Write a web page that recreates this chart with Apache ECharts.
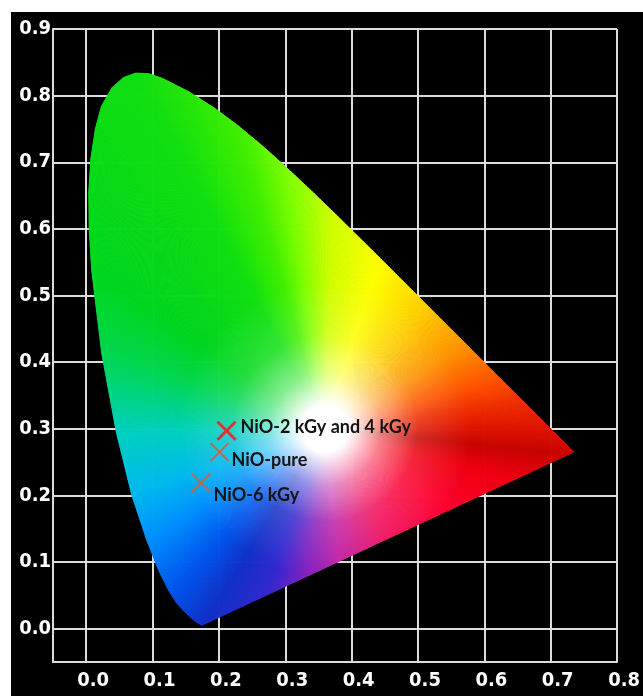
<!DOCTYPE html>
<html>
<head>
<meta charset="utf-8">
<script src="https://cdn.jsdelivr.net/npm/echarts@6/dist/echarts.min.js"></script>
<style>
    html, body { margin: 0; padding: 0; background: #fff; }
    #chart { position: absolute; left: 11px; top: 12px; width: 632px; height: 684px; background: #000; }
</style>
</head>
<body>
<div id="chart"></div>
<script>
// edge of the coloured horseshoe (spectral locus)
var locusX = [0.1741, 0.1644, 0.1566, 0.1440, 0.1355, 0.1241, 0.1096, 0.0913, 0.0687, 0.0454,
              0.0235, 0.0082, 0.0045, 0.0039, 0.0070, 0.0139, 0.0230, 0.0389, 0.0560, 0.0743,
              0.0940, 0.1142, 0.1547, 0.1929, 0.2296, 0.2658, 0.3016, 0.3373, 0.3731, 0.4087,
              0.4441, 0.4788, 0.5125, 0.5448, 0.5752, 0.6029, 0.6270, 0.6658, 0.6915, 0.7190,
              0.7347];
var locusY = [0.0050, 0.0109, 0.0177, 0.0297, 0.0399, 0.0578, 0.0868, 0.1327, 0.2007, 0.2950,
              0.4127, 0.5384, 0.6000, 0.6548, 0.7050, 0.7502, 0.7840, 0.8120, 0.8270, 0.8338,
              0.8330, 0.8262, 0.8059, 0.7816, 0.7543, 0.7243, 0.6923, 0.6589, 0.6245, 0.5896,
              0.5547, 0.5202, 0.4866, 0.4544, 0.4242, 0.3965, 0.3725, 0.3340, 0.3083, 0.2809,
              0.2653];

// white spot inside the horseshoe
var whiteX = 0.36;
var whiteY = 0.30;

// samples
var sampleNames = ['NiO-2 kGy and 4 kGy', 'NiO-pure', 'NiO-6 kGy'];
var sampleX = [0.2115, 0.201, 0.173];
var sampleY = [0.297, 0.265, 0.219];

var xTickValues = [0, 0.1, 0.2, 0.3, 0.4, 0.5, 0.6, 0.7, 0.8];
var xTickLabels = ['0.0', '0.1', '0.2', '0.3', '0.4', '0.5', '0.6', '0.7', '0.8'];
var yTickValues = [0, 0.1, 0.2, 0.3, 0.4, 0.5, 0.6, 0.7, 0.8, 0.9];
var yTickLabels = ['0.0', '0.1', '0.2', '0.3', '0.4', '0.5', '0.6', '0.7', '0.8', '0.9'];

// colour of the rim, by angle seen from the white spot (degrees)
var rimAngles = [-6, 0, 8, 15, 30, 51, 72, 88, 98, 106, 118, 146, 161, 181, 199, 212, 226, 238, 250, 262, 275, 298, 326, 345, 354];
var rimColors = ['#c80400', '#e01400', '#f03000', '#ff5000', '#ff9000', '#ffd000', '#ffff00', '#d0ff00', '#80ff00', '#40f000',
                 '#10e010', '#00d820', '#00d850', '#00d0c0', '#00b8f0', '#0090ff', '#0058f0', '#1030c8', '#3028d0', '#8020c0',
                 '#c020a8', '#f01060', '#ff0030', '#f00010', '#c80400'];

// how fast the white fades into the rim colour (distance in chart units)
var fadeDist = [0, 0.035, 0.085, 0.14, 0.22];
var fadeMix = [0, 0, 0.5, 0.85, 1];

var markColors = ['#e43030', '#bc6a4c', '#bc6a4c'];
var markWidths = [3, 2, 2];
var markHalf = [9, 9, 9.5];
var labelDx = [14, 12, 12.5];
var labelDy = [-4, 8, 12];

function hexRgb(h) {
    return [parseInt(h.substr(1, 2), 16), parseInt(h.substr(3, 2), 16), parseInt(h.substr(5, 2), 16)];
}
function lerp(a, b, t) {
    var r = [];
    for (var k = 0; k < 3; k++) r.push(a[k] + (b[k] - a[k]) * t);
    return r;
}
function css(c) {
    return 'rgb(' + c.map(Math.round).join(',') + ')';
}
function rimColor(ang) {
    if (ang >= 354) ang -= 360;
    for (var k = 0; k < rimAngles.length - 1; k++) {
        if (ang <= rimAngles[k + 1]) {
            var t = (ang - rimAngles[k]) / (rimAngles[k + 1] - rimAngles[k]);
            return lerp(hexRgb(rimColors[k]), hexRgb(rimColors[k + 1]), Math.max(0, Math.min(1, t)));
        }
    }
    return hexRgb(rimColors[rimColors.length - 1]);
}
function mixAt(d) {
    for (var k = 0; k < fadeDist.length - 1; k++) {
        if (d <= fadeDist[k + 1]) {
            return fadeMix[k] + (fadeMix[k + 1] - fadeMix[k]) * (d - fadeDist[k]) / (fadeDist[k + 1] - fadeDist[k]);
        }
    }
    return 1;
}
function fanStops(rim, rData) {
    var w = [255, 255, 255];
    var stops = [];
    for (var k = 0; k < fadeDist.length; k++) {
        var off = fadeDist[k] / rData;
        if (off < 1) stops.push({offset: off, color: css(lerp(w, rim, fadeMix[k]))});
    }
    stops.push({offset: 1, color: css(lerp(w, rim, mixAt(rData)))});
    return stops;
}

function renderFan(params, api) {
    var n = locusX.length;
    var i = params.dataIndex;
    var j = (i + 1) % n;
    var unit = api.size([1, 1])[0];
    var c = api.coord([whiteX, whiteY]);
    var a = api.coord([locusX[i], locusY[i]]);
    var b = api.coord([locusX[j], locusY[j]]);
    var len = Math.hypot(b[0] - a[0], b[1] - a[1]);
    var steps = Math.max(1, Math.ceil(len / 3));
    var children = [];
    for (var k = 0; k < steps; k++) {
        var t0 = k / steps, t1 = (k + 1) / steps, tm = (k + 0.5) / steps;
        var p0 = [a[0] + (b[0] - a[0]) * t0, a[1] + (b[1] - a[1]) * t0];
        var p1 = [a[0] + (b[0] - a[0]) * t1, a[1] + (b[1] - a[1]) * t1];
        var pm = [a[0] + (b[0] - a[0]) * tm, a[1] + (b[1] - a[1]) * tm];
        var r = Math.hypot(pm[0] - c[0], pm[1] - c[1]);
        var ang = Math.atan2(c[1] - pm[1], pm[0] - c[0]) * 180 / Math.PI;
        if (ang < 0) ang += 360;
        var grad = new echarts.graphic.RadialGradient(c[0], c[1], r, fanStops(rimColor(ang), r / unit), true);
        children.push({
            type: 'polygon',
            shape: {points: [c, p0, p1]},
            style: {fill: grad, stroke: grad, lineWidth: 1}
        });
    }
    return {type: 'group', children: children};
}

function renderSample(params, api) {
    var i = params.dataIndex;
    var p = api.coord([sampleX[i], sampleY[i]]);
    var h = markHalf[i];
    var st = {stroke: markColors[i], lineWidth: markWidths[i]};
    return {
        type: 'group',
        children: [
            {type: 'line', shape: {x1: p[0] - h, y1: p[1] - h, x2: p[0] + h, y2: p[1] + h}, style: st},
            {type: 'line', shape: {x1: p[0] - h, y1: p[1] + h, x2: p[0] + h, y2: p[1] - h}, style: st},
            {
                type: 'text', x: p[0] + labelDx[i], y: p[1] + labelDy[i],
                style: {text: sampleNames[i], fill: '#141414', font: 'bold 18px Lato', verticalAlign: 'middle'}
            }
        ]
    };
}

function tickFmt(values, labels) {
    return function (v) {
        for (var k = 0; k < values.length; k++) {
            if (Math.abs(values[k] - v) < 1e-6) return labels[k];
        }
        return '';
    };
}

var gridColor = '#dcdcdc';
var labelStyle = {
    color: '#ffffff',
    fontFamily: '"DejaVu Sans Condensed", "Liberation Sans Narrow", sans-serif',
    fontWeight: 'bold',
    fontSize: 20
};

var chart = echarts.init(document.getElementById('chart'));

var option = {
    animation: false,
    backgroundColor: '#000',
    grid: {left: 42, top: 17, right: 23, bottom: 34},
    xAxis: {
        type: 'value', min: -0.05, max: 0.8,
        axisLine: {show: true, onZero: false, lineStyle: {color: gridColor, width: 2}},
        axisTick: {show: false, customValues: xTickValues},
        splitLine: {show: true, lineStyle: {color: gridColor, width: 2}},
        axisLabel: Object.assign({customValues: xTickValues, formatter: tickFmt(xTickValues, xTickLabels), margin: 9, padding: [0, 0, 0, 14]}, labelStyle)
    },
    yAxis: {
        type: 'value', min: -0.05, max: 0.9,
        axisLine: {show: true, onZero: false, lineStyle: {color: gridColor, width: 2}},
        axisTick: {show: false, customValues: yTickValues},
        splitLine: {show: true, lineStyle: {color: gridColor, width: 2}},
        axisLabel: Object.assign({customValues: yTickValues, formatter: tickFmt(yTickValues, yTickLabels), margin: 2}, labelStyle)
    },
    series: [
        {
            type: 'custom',
            renderItem: renderFan,
            data: locusX.map(function (x, i) { return [x, locusY[i]]; }),
            silent: true
        },
        {
            type: 'custom',
            renderItem: renderSample,
            data: sampleX.map(function (x, i) { return [x, sampleY[i]]; }),
            silent: true
        }
    ]
};

chart.setOption(option);
</script>
</body>
</html>
